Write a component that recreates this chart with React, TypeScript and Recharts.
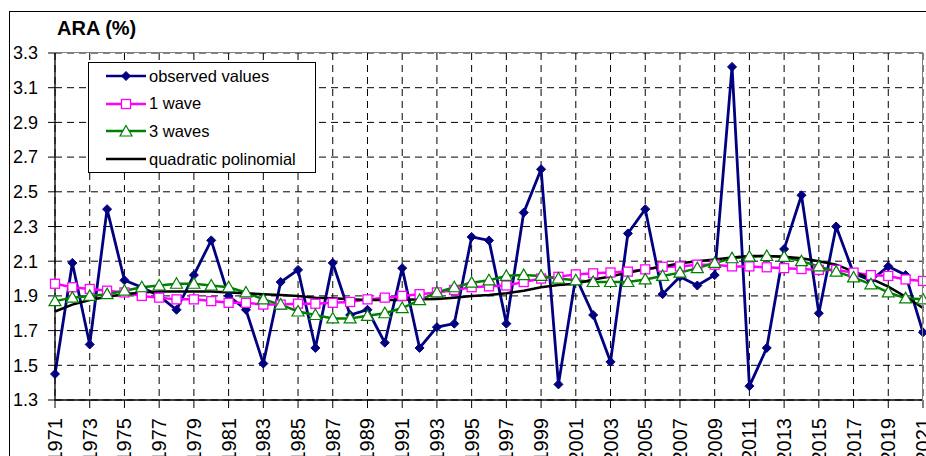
import React from 'react';
import { LineChart, Line, XAxis, YAxis, CartesianGrid } from 'recharts';

const years = [
  1971, 1972, 1973, 1974, 1975, 1976, 1977, 1978, 1979, 1980,
  1981, 1982, 1983, 1984, 1985, 1986, 1987, 1988, 1989, 1990,
  1991, 1992, 1993, 1994, 1995, 1996, 1997, 1998, 1999, 2000,
  2001, 2002, 2003, 2004, 2005, 2006, 2007, 2008, 2009, 2010,
  2011, 2012, 2013, 2014, 2015, 2016, 2017, 2018, 2019, 2020, 2021,
];

const observed = [
  1.45, 2.09, 1.62, 2.40, 1.99, 1.95, 1.90, 1.82, 2.02, 2.22,
  1.90, 1.82, 1.51, 1.98, 2.05, 1.60, 2.09, 1.79, 1.82, 1.63,
  2.06, 1.60, 1.72, 1.74, 2.24, 2.22, 1.74, 2.38, 2.63, 1.39,
  2.01, 1.79, 1.52, 2.26, 2.40, 1.91, 2.01, 1.96, 2.02, 3.22,
  1.38, 1.60, 2.17, 2.48, 1.80, 2.30, 2.03, 1.99, 2.07, 2.02, 1.69,
];

const oneWave = [
  1.97, 1.95, 1.94, 1.93, 1.92, 1.90, 1.89, 1.88, 1.88, 1.87,
  1.86, 1.86, 1.85, 1.85, 1.855, 1.855, 1.86, 1.865, 1.88, 1.89,
  1.90, 1.91, 1.92, 1.934, 1.95, 1.955, 1.96, 1.98, 2.00, 2.01,
  2.024, 2.03, 2.035, 2.04, 2.053, 2.068, 2.07, 2.08, 2.08, 2.07,
  2.07, 2.065, 2.06, 2.055, 2.05, 2.05, 2.034, 2.02, 2.015, 1.995, 1.986,
];

const threeWaves = [
  1.87, 1.89, 1.90, 1.91, 1.93, 1.95, 1.96, 1.97, 1.97, 1.96,
  1.95, 1.92, 1.88, 1.85, 1.81, 1.79, 1.77, 1.77, 1.785, 1.80,
  1.83, 1.876, 1.92, 1.95, 1.976, 1.99, 2.015, 2.02, 2.015, 2.00,
  1.99, 1.98, 1.98, 1.98, 1.995, 2.015, 2.034, 2.06, 2.09, 2.117,
  2.126, 2.13, 2.125, 2.10, 2.07, 2.04, 2.007, 1.967, 1.92, 1.886, 1.88,
];

const quadratic = [
  1.81, 1.85, 1.876, 1.895, 1.91, 1.92, 1.925, 1.925, 1.925, 1.925,
  1.92, 1.915, 1.91, 1.905, 1.90, 1.89, 1.886, 1.88, 1.876, 1.876,
  1.876, 1.88, 1.882, 1.89, 1.90, 1.905, 1.915, 1.93, 1.95, 1.963,
  1.97, 1.995, 2.012, 2.034, 2.053, 2.068, 2.088, 2.10, 2.11, 2.122,
  2.13, 2.13, 2.125, 2.117, 2.10, 2.08, 2.04, 2.00, 1.953, 1.895, 1.83,
];

const xTicks = years.filter((y) => y % 2 === 1);
const yTicks = [1.3, 1.5, 1.7, 1.9, 2.1, 2.3, 2.5, 2.7, 2.9, 3.1, 3.3];

const data = years.map((year, i) => ({
  year,
  observed: observed[i],
  oneWave: oneWave[i],
  threeWaves: threeWaves[i],
  quadratic: quadratic[i],
}));

const FONT = '"Liberation Sans", Arial, sans-serif';
const NAVY = '#000080';
const MAGENTA = '#ff00ff';
const GREEN = '#008000';

const Diamond = ({ cx, cy }: any) =>
  cx == null ? null : (
    <path d={`M${cx},${cy - 4.5}L${cx + 4.5},${cy}L${cx},${cy + 4.5}L${cx - 4.5},${cy}Z`} fill={NAVY} stroke={NAVY} />
  );

const Square = ({ cx, cy }: any) =>
  cx == null ? null : (
    <rect x={cx - 4.5} y={cy - 4.5} width={9} height={9} fill="#fff" stroke={MAGENTA} strokeWidth={1.3} />
  );

const Triangle = ({ cx, cy }: any) =>
  cx == null ? null : (
    <path d={`M${cx},${cy - 6}L${cx + 6},${cy + 4.5}L${cx - 6},${cy + 4.5}Z`} fill="#fff" stroke={GREEN} strokeWidth={1.2} />
  );

const XTick = ({ x, y, payload }: any) => (
  <text
    x={x}
    y={y + 8}
    transform={`rotate(-90, ${x}, ${y + 8})`}
    textAnchor="end"
    dominantBaseline="central"
    fontSize={20}
    fontFamily={FONT}
    fill="#000"
  >
    {payload.value}
  </text>
);

const legendItems = [
  { label: 'observed values', color: NAVY, marker: 'diamond' },
  { label: '1 wave', color: MAGENTA, marker: 'square' },
  { label: '3 waves', color: GREEN, marker: 'triangle' },
  { label: 'quadratic polinomial', color: '#000', marker: 'none' },
];

const LegendBox = () => (
  <div
    style={{
      position: 'absolute',
      left: 88,
      top: 62,
      width: 226,
      height: 109,
      border: '1px solid #000',
      background: '#fff',
      fontFamily: FONT,
      fontSize: 16.5,
    }}
  >
    {legendItems.map((it, i) => (
      <div key={it.label} style={{ position: 'absolute', left: 17, top: 1 + i * 27.7, height: 24, display: 'flex', alignItems: 'center' }}>
        <svg width={42} height={24}>
          <line x1={0} y1={12} x2={40} y2={12} stroke={it.color} strokeWidth={2.5} />
          {it.marker === 'diamond' && <Diamond cx={20} cy={12} />}
          {it.marker === 'square' && <Square cx={20} cy={12} />}
          {it.marker === 'triangle' && <Triangle cx={20} cy={12.5} />}
        </svg>
        <span style={{ marginLeft: 1, whiteSpace: 'nowrap' }}>{it.label}</span>
      </div>
    ))}
  </div>
);

export default function App() {
  return (
    <div style={{ position: 'fixed', left: 0, top: 0, width: 926, height: 456, overflow: 'hidden', background: '#fff' }}>
      <div style={{ position: 'absolute', left: 9, top: 11, width: 1000, height: 1000, border: '1px solid #000' }} />
      <div style={{ position: 'absolute', left: 57, top: 17, fontFamily: FONT, fontWeight: 'bold', fontSize: 20 }}>ARA (%)</div>
      <div style={{ position: 'absolute', left: 0, top: 0 }}>
        <LineChart width={926} height={456} data={data} margin={{ top: 53, right: 3, left: 0, bottom: 0 }}>
          <CartesianGrid stroke="#000" strokeDasharray="7 5" strokeWidth={1} />
          <XAxis
            dataKey="year"
            type="number"
            domain={[1971, 2021]}
            ticks={xTicks}
            interval={0}
            height={56}
            tickSize={8}
            tick={<XTick />}
            axisLine={{ stroke: '#000', strokeWidth: 1.3 }}
            tickLine={{ stroke: '#000' }}
          />
          <YAxis
            type="number"
            domain={[1.3, 3.3]}
            ticks={yTicks}
            interval={0}
            width={55}
            tickSize={7}
            tickMargin={10}
            tickFormatter={(v: number) => v.toFixed(1)}
            tick={{ fill: '#000', fontSize: 18, fontFamily: FONT }}
            axisLine={{ stroke: '#000', strokeWidth: 1.3 }}
            tickLine={{ stroke: '#000' }}
          />
          <Line dataKey="observed" stroke={NAVY} strokeWidth={2.8} dot={<Diamond />} isAnimationActive={false} />
          <Line dataKey="oneWave" stroke={MAGENTA} strokeWidth={2.5} dot={<Square />} isAnimationActive={false} />
          <Line dataKey="threeWaves" stroke={GREEN} strokeWidth={2.5} dot={<Triangle />} isAnimationActive={false} />
          <Line dataKey="quadratic" stroke="#000" strokeWidth={2.5} dot={false} isAnimationActive={false} />
        </LineChart>
      </div>
      <div
        style={{
          position: 'absolute',
          left: 55,
          top: 52,
          width: 867,
          height: 348,
          borderTop: '1px solid #808080',
          borderRight: '1px solid #808080',
          pointerEvents: 'none',
        }}
      />
      <LegendBox />
    </div>
  );
}
